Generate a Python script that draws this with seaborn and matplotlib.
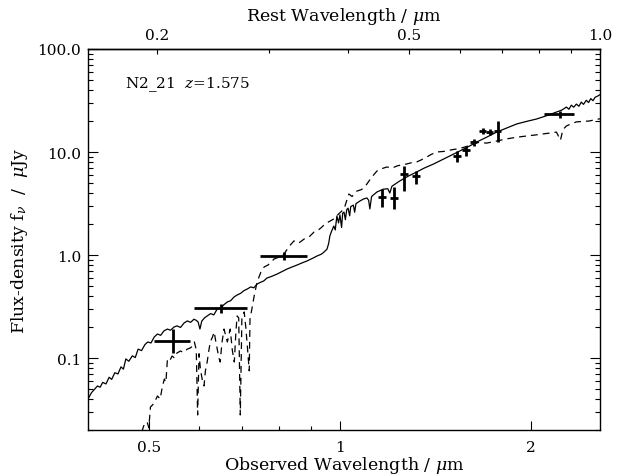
import numpy as np
import pandas as pd
import matplotlib
matplotlib.use("Agg")
import matplotlib.pyplot as plt
import seaborn as sns
from matplotlib.ticker import FixedLocator, FixedFormatter, NullFormatter, LogLocator

# ---------------- data ----------------
redshift = 1.575
label_text = "N2_21  $z$=1.575"

solid_wl = [0.395, 0.400, 0.405, 0.410, 0.414, 0.418, 0.422, 0.427, 0.432, 0.436, 0.441, 0.446,
            0.451, 0.455, 0.459, 0.464, 0.470, 0.475, 0.480, 0.486, 0.492, 0.497, 0.503, 0.509,
            0.515, 0.521, 0.527, 0.534, 0.540, 0.547, 0.553, 0.560, 0.567, 0.574, 0.581, 0.588,
            0.593, 0.597, 0.601, 0.605, 0.611, 0.617, 0.625, 0.632, 0.640, 0.648, 0.656, 0.664,
            0.672, 0.680, 0.688, 0.697, 0.705, 0.714, 0.723, 0.731, 0.740, 0.750, 0.758, 0.767,
            0.780, 0.796, 0.810, 0.825, 0.840, 0.856, 0.870, 0.887, 0.904, 0.920, 0.935, 0.944,
            0.954, 0.960, 0.964, 0.970, 0.978, 0.983, 0.989, 0.995, 1.000, 1.006, 1.010, 1.015,
            1.020, 1.025, 1.030, 1.036, 1.040, 1.044, 1.050, 1.055, 1.060, 1.075, 1.090, 1.103,
            1.110, 1.115, 1.122, 1.144, 1.170, 1.190, 1.199, 1.208, 1.243, 1.280, 1.322, 1.360,
            1.406, 1.450, 1.491, 1.530, 1.568, 1.605, 1.644, 1.700, 1.768, 1.830, 1.901, 1.970,
            2.044, 2.120, 2.198, 2.240, 2.279, 2.300, 2.320, 2.340, 2.363, 2.385, 2.405, 2.425,
            2.450, 2.470, 2.490, 2.510, 2.530, 2.555, 2.575]
solid_flux = [0.039, 0.040, 0.046, 0.050, 0.0535, 0.052, 0.058, 0.056, 0.065, 0.062, 0.072, 0.070,
              0.082, 0.078, 0.098, 0.093, 0.105, 0.101, 0.122, 0.118, 0.135, 0.143, 0.140, 0.160,
              0.171, 0.166, 0.183, 0.191, 0.186, 0.200, 0.205, 0.198, 0.218, 0.229, 0.222, 0.238,
              0.232, 0.224, 0.191, 0.228, 0.245, 0.256, 0.270, 0.262, 0.299, 0.305, 0.330, 0.350,
              0.360, 0.390, 0.409, 0.425, 0.450, 0.468, 0.490, 0.480, 0.523, 0.545, 0.560, 0.598,
              0.620, 0.654, 0.690, 0.731, 0.765, 0.800, 0.835, 0.875, 0.925, 0.978, 1.02, 1.07,
              1.14, 1.30, 1.53, 1.70, 1.91, 1.75, 2.39, 2.05, 2.45, 1.85, 2.55, 2.61,
              2.20, 2.75, 2.85, 2.40, 2.95, 2.99, 3.05, 2.60, 3.15, 3.34, 3.50, 3.58,
              3.40, 2.80, 3.70, 4.09, 4.35, 4.40, 4.00, 4.65, 5.23, 5.80, 6.40, 7.00,
              7.65, 8.40, 9.15, 9.90, 10.7, 11.5, 12.5, 13.8, 15.6, 17.0, 18.7, 19.8,
              20.9, 22.5, 24.4, 25.5, 27.3, 26.0, 28.5, 27.2, 29.2, 27.8, 30.5, 29.0,
              31.8, 30.2, 33.0, 31.5, 34.0, 35.0, 36.0]

dash_wl = [0.480, 0.490, 0.496, 0.499, 0.502, 0.508, 0.515, 0.520, 0.524, 0.528, 0.531, 0.534,
           0.539, 0.543, 0.548, 0.553, 0.560, 0.566, 0.574, 0.580, 0.585, 0.589, 0.593, 0.596,
           0.599, 0.602, 0.606, 0.610, 0.613, 0.617, 0.621, 0.624, 0.629, 0.633, 0.636, 0.640,
           0.644, 0.647, 0.651, 0.656, 0.660, 0.664, 0.668, 0.671, 0.676, 0.681, 0.685, 0.688,
           0.692, 0.696, 0.700, 0.706, 0.710, 0.714, 0.719, 0.721, 0.726, 0.732, 0.740, 0.750,
           0.759, 0.770, 0.787, 0.800, 0.816, 0.830, 0.846, 0.860, 0.878, 0.894, 0.910, 0.920,
           0.935, 0.947, 0.960, 0.978, 0.995, 1.015, 1.033, 1.045, 1.064, 1.080, 1.095, 1.103,
           1.120, 1.144, 1.165, 1.186, 1.210, 1.230, 1.250, 1.275, 1.300, 1.322, 1.345, 1.371,
           1.395, 1.422, 1.450, 1.474, 1.500, 1.529, 1.560, 1.600, 1.644, 1.705, 1.770, 1.833,
           1.900, 1.971, 2.030, 2.097, 2.150, 2.198, 2.230, 2.250, 2.279, 2.320, 2.363, 2.420,
           2.477, 2.530, 2.575]
dash_flux = [0.015, 0.022, 0.024, 0.021, 0.0334, 0.036, 0.0428, 0.040, 0.052, 0.0625, 0.058, 0.098,
             0.095, 0.1045, 0.100, 0.112, 0.117, 0.113, 0.122, 0.125, 0.130, 0.143, 0.120, 0.028,
             0.110, 0.078, 0.062, 0.0535, 0.075, 0.0914, 0.120, 0.143, 0.160, 0.179, 0.150, 0.122,
             0.100, 0.0914, 0.140, 0.191, 0.165, 0.143, 0.170, 0.191, 0.120, 0.0914, 0.180, 0.256,
             0.245, 0.028, 0.239, 0.280, 0.200, 0.131, 0.075, 0.239, 0.300, 0.400, 0.550, 0.680,
             0.765, 0.800, 0.915, 0.950, 1.02, 1.20, 1.37, 1.30, 1.43, 1.50, 1.67, 1.71,
             1.85, 2.00, 2.10, 2.24, 2.50, 2.80, 3.91, 3.70, 4.18, 4.30, 4.57, 4.89,
             5.60, 6.54, 6.90, 7.15, 7.00, 7.31, 7.50, 7.65, 7.90, 8.00, 8.40, 8.94,
             9.50, 10.0, 10.1, 10.2, 10.5, 10.7, 11.0, 11.5, 12.4, 12.2, 12.8, 13.4,
             13.9, 14.3, 14.6, 15.0, 15.3, 15.6, 13.0, 16.5, 17.9, 18.8, 19.6, 19.8,
             20.0, 20.6, 21.0]

obs_wl = [0.544, 0.649, 0.816, 1.165, 1.216, 1.262, 1.318, 1.529, 1.580, 1.626, 1.680, 1.723, 1.774, 2.230]
obs_flux = [0.146, 0.306, 0.98, 3.66, 3.58, 6.05, 5.80, 9.15, 10.5, 12.5, 16.0, 15.6, 16.0, 23.4]
obs_xerr_lo = [0.035, 0.060, 0.068, 0.017, 0.018, 0.018, 0.019, 0.022, 0.023, 0.023, 0.024, 0.025, 0.025, 0.126]
obs_xerr_hi = [0.036, 0.064, 0.071, 0.017, 0.018, 0.018, 0.019, 0.022, 0.023, 0.023, 0.024, 0.025, 0.025, 0.116]
obs_yerr_lo = [0.034, 0.030, 0.08, 0.74, 0.78, 1.85, 0.95, 1.15, 1.35, 1.1, 1.0, 1.0, 3.5, 2.0]
obs_yerr_hi = [0.045, 0.030, 0.09, 0.71, 0.99, 1.25, 0.70, 1.05, 0.9, 0.9, 1.1, 1.0, 4.0, 1.6]

obs_ticks = [0.5, 1, 2]
obs_ticklabels = ["0.5", "1", "2"]
obs_minor = [0.6, 0.7, 0.8, 0.9]
rest_ticks = [0.2, 0.5, 1.0]
rest_ticklabels = ["0.2", "0.5", "1.0"]
rest_minor = [0.3, 0.4, 0.6, 0.7, 0.8, 0.9]
flux_ticks = [0.1, 1, 10, 100]
flux_ticklabels = ["0.1", "1.0", "10.0", "100.0"]

# ---------------- plot ----------------
sns.set_style("ticks")
plt.rcParams["font.family"] = ["DejaVu Serif"]
plt.rcParams["mathtext.fontset"] = "dejavuserif"
plt.rcParams["text.color"] = "black"
plt.rcParams["axes.labelcolor"] = "black"
plt.rcParams["xtick.color"] = "black"
plt.rcParams["ytick.color"] = "black"
FS = 11
LFS = 12.5

fig = plt.figure(figsize=(6.24, 4.77), dpi=100)
W, H = 624, 477
ax = fig.add_axes([88 / W, 1 - 431 / H, (600 - 88) / W, (431 - 50) / H])

solid_df = pd.DataFrame({"wl": solid_wl, "flux": solid_flux})
dash_df = pd.DataFrame({"wl": dash_wl, "flux": dash_flux})
sns.lineplot(data=solid_df, x="wl", y="flux", ax=ax, color="black", lw=0.9,
             estimator=None, sort=False)
sns.lineplot(data=dash_df, x="wl", y="flux", ax=ax, color="black", lw=0.9,
             estimator=None, sort=False)
ax.lines[-1].set_dashes([5.5, 4])

ax.errorbar(obs_wl, obs_flux,
            xerr=[obs_xerr_lo, obs_xerr_hi], yerr=[obs_yerr_lo, obs_yerr_hi],
            fmt="none", ecolor="black", elinewidth=2.0, capsize=0)

ax.set_xscale("log")
ax.set_yscale("log")
ax.set_xlim(0.4, 2.575)
ax.set_ylim(0.02, 100)

ax.xaxis.set_major_locator(FixedLocator(obs_ticks))
ax.xaxis.set_major_formatter(FixedFormatter(obs_ticklabels))
ax.xaxis.set_minor_locator(FixedLocator(obs_minor))
ax.xaxis.set_minor_formatter(NullFormatter())
ax.yaxis.set_major_locator(FixedLocator(flux_ticks))
ax.yaxis.set_major_formatter(FixedFormatter(flux_ticklabels))
ax.yaxis.set_minor_locator(LogLocator(base=10, subs=np.arange(2, 10)))
ax.yaxis.set_minor_formatter(NullFormatter())

ax.tick_params(axis="both", which="both", direction="in", top=False, right=True,
               labelsize=FS, color="black", labelcolor="black", width=0.8)
ax.tick_params(axis="x", which="major", length=6.5, pad=7)
ax.tick_params(axis="x", which="minor", length=3)
ax.tick_params(axis="y", which="major", length=7, pad=5)
ax.tick_params(axis="y", which="minor", length=3.5)

for s in ax.spines.values():
    s.set_linewidth(1.0)
    s.set_color("black")

ax.set_xlabel("Observed Wavelength / $\\mu$m", fontsize=LFS, labelpad=0, color="black")
ax.set_ylabel("Flux-density f$_\\nu$  /  $\\mu$Jy", fontsize=LFS, labelpad=5, color="black")

secax = ax.secondary_xaxis("top", functions=(lambda x: x / (1 + redshift),
                                             lambda x: x * (1 + redshift)))
secax.xaxis.set_major_locator(FixedLocator(rest_ticks))
secax.xaxis.set_major_formatter(FixedFormatter(rest_ticklabels))
secax.xaxis.set_minor_locator(FixedLocator(rest_minor))
secax.xaxis.set_minor_formatter(NullFormatter())
secax.tick_params(axis="x", which="both", direction="in", labelsize=FS, width=0.8, pad=5,
                  color="black", labelcolor="black")
secax.tick_params(axis="x", which="major", length=3.5)
secax.tick_params(axis="x", which="minor", length=3)
secax.spines["top"].set_linewidth(1.0)
secax.spines["top"].set_color("black")
secax.set_xlabel("Rest Wavelength / $\\mu$m", fontsize=LFS, labelpad=6, color="black")

ax.text(0.072, 0.908, label_text, transform=ax.transAxes, fontsize=FS,
        ha="left", va="center", color="black")

fig.savefig("out.png", dpi=100)
